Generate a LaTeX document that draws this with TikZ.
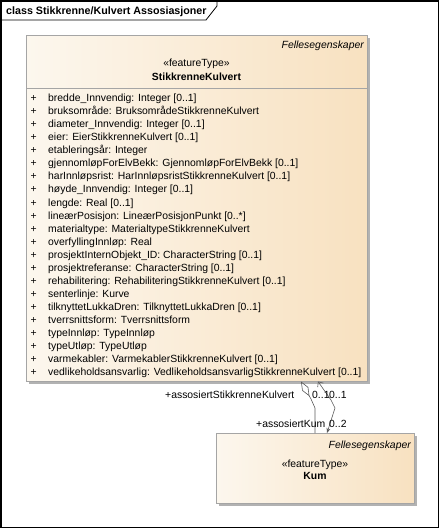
\documentclass[tikz,border=0pt]{standalone}
\usepackage{fontspec}
\setmainfont{Liberation Sans}
\usetikzlibrary{arrows.meta,shadows}
\definecolor{boxleft}{RGB}{252,247,238}
\definecolor{boxright}{RGB}{248,225,192}
\definecolor{boxline}{RGB}{165,165,165}
\definecolor{shadowc}{RGB}{178,178,178}
\definecolor{linec}{RGB}{90,90,90}
\begin{document}
\begin{tikzpicture}[x=1pt,y=-1pt,
  font=\fontsize{10.4}{12}\selectfont,
  classbox/.style={draw=boxline, line width=0.8pt, left color=boxleft, right color=boxright,
    anchor=north west, inner sep=0pt,
    drop shadow={shadow xshift=3pt, shadow yshift=-3pt, fill=shadowc, opacity=1}},
  attr/.style={anchor=base west, inner sep=0pt},
  lbl/.style={anchor=base west, inner sep=0pt},
  conn/.style={draw=linec, line width=0.6pt}]
\useasboundingbox (0,0) rectangle (440,529);
% frame
\draw[line width=1.2pt] (1,1) rectangle (438.6,527.8);
\draw[line width=0.8pt] (1,20) -- (206,20) -- (217,6) -- (217,1);
\node[lbl, font=\fontsize{10.7}{12}\selectfont\bfseries] (title) at (6,15) {class Stikkrenne/Kulvert Assosiasjoner};
% main class
\node[classbox, minimum width=341pt, minimum height=346pt] (sk) at (26,35) {};
\draw[boxline, line width=0.8pt] (26,88) -- (367,88);
\node[anchor=base east, inner sep=0pt, font=\fontsize{10.4}{12}\selectfont\itshape] (fe1) at (364,49) {Fellesegenskaper};
\node[anchor=base, inner sep=0pt] (st1) at (196.5,67) {«featureType»};
\node[anchor=base, inner sep=0pt, font=\fontsize{10.4}{12}\selectfont\bfseries] (nm1) at (196.5,80.5) {StikkrenneKulvert};
\foreach \t [count=\i from 0] in {
  bredde\_Innvendig: Integer [0..1],
  bruksområde: BruksområdeStikkrenneKulvert,
  diameter\_Innvendig: Integer [0..1],
  eier: EierStikkrenneKulvert [0..1],
  etableringsår: Integer,
  gjennomløpForElvBekk: GjennomløpForElvBekk [0..1],
  harInnløpsrist: HarInnløpsristStikkrenneKulvert [0..1],
  høyde\_Innvendig: Integer [0..1],
  lengde: Real [0..1],
  lineærPosisjon: LineærPosisjonPunkt [0..*],
  materialtype: MaterialtypeStikkrenneKulvert,
  overfyllingInnløp: Real,
  prosjektInternObjekt\_ID: CharacterString [0..1],
  prosjektreferanse: CharacterString [0..1],
  rehabilitering: RehabiliteringStikkrenneKulvert [0..1],
  senterlinje: Kurve,
  tilknyttetLukkaDren: TilknyttetLukkaDren [0..1],
  tverrsnittsform: Tverrsnittsform,
  typeInnløp: TypeInnløp,
  typeUtløp: TypeUtløp,
  varmekabler: VarmekablerStikkrenneKulvert [0..1],
  vedlikeholdsansvarlig: VedlikeholdsansvarligStikkrenneKulvert [0..1]}
{
  \node[attr] (p\i) at (30.5,102+13*\i) {+};
  \node[attr] (a\i) at (48,102+13*\i) {\t};
}
% Kum class
\node[classbox, minimum width=198pt, minimum height=70pt] (kum) at (216,433) {};
\node[anchor=base east, inner sep=0pt, font=\fontsize{10.4}{12}\selectfont\itshape] (fe2) at (411,448) {Fellesegenskaper};
\node[anchor=base, inner sep=0pt] (st2) at (315,467) {«featureType»};
\node[anchor=base, inner sep=0pt, font=\fontsize{10.4}{12}\selectfont\bfseries] (nm2) at (315,479) {Kum};
% connectors
\coordinate (s1) at (301,381.5);
\coordinate (k1) at (315,433);
\coordinate (s2) at (318,381.5);
\coordinate (k2) at (327,433);
\draw[conn, {Diamond[open, length=17pt, width=7pt]}-] (s1) -- (311,399) -- (315,408) -- (k1);
\draw[conn, {Straight Barb[length=4pt, width=7pt]}-{Stealth[length=5pt, width=4pt]}] (s2) -- (331,400) -- (335,408) -- (k2);
\node[lbl] (r1) at (165,398.5) {+assosiertStikkrenneKulvert};
\node[lbl] (m1) at (312,398.5) {0..1};
\node[lbl] (m2) at (329,398.5) {0..1};
\node[lbl] (r2) at (256,427) {+assosiertKum};
\node[lbl] (m3) at (329,427) {0..2};
\end{tikzpicture}
\end{document}
